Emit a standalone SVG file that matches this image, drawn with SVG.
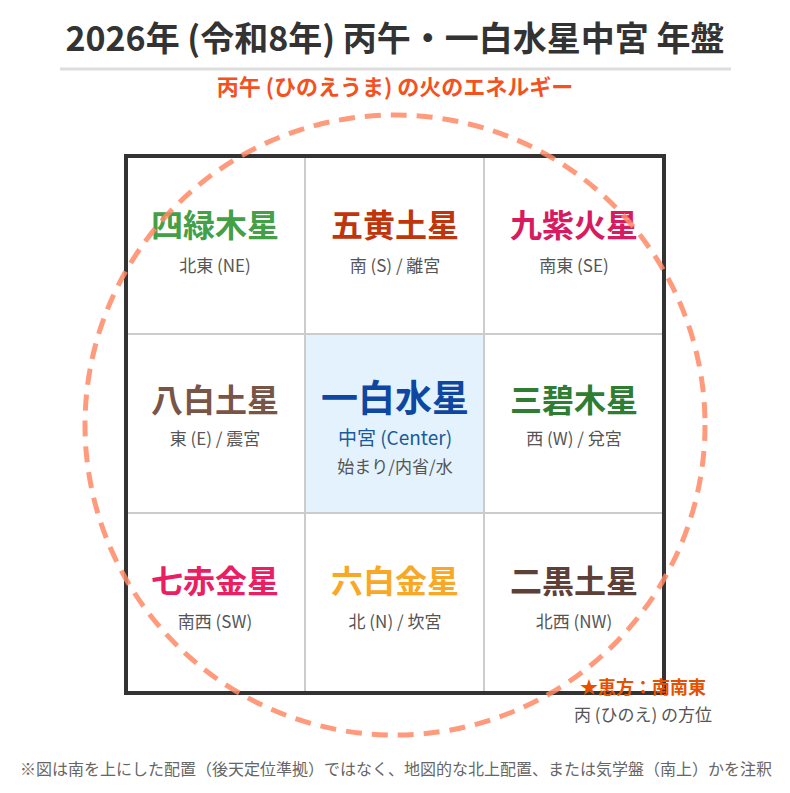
<svg xmlns="http://www.w3.org/2000/svg" width="790" height="793" viewBox="0 0 790 793">
<style>
text{font-family:"Noto Sans CJK JP","Noto Sans",sans-serif;text-anchor:middle}
.title{font-size:34px;font-weight:bold;fill:#333}
.sub{font-size:22px;font-weight:bold;fill:#f4511e}
.star{font-size:32px;font-weight:bold}
.dir{font-size:17px;fill:#555}
.cell{fill:#fff;stroke:#ccc;stroke-width:2}
.note{font-size:16px;fill:#666}
</style>
<rect width="790" height="793" fill="#fff"/>
<g id="header">
<text class="title" x="395" y="51">2026年 (令和8年) 丙午・一白水星中宮 年盤</text>
<line x1="60" y1="69" x2="731" y2="69" stroke="#ddd" stroke-width="3"/>
<text class="sub" x="395" y="95">丙午 (ひのえうま) の火のエネルギー</text>
</g>
<g id="grid">
<rect class="cell" x="126" y="156" width="179" height="178"/>
<rect class="cell" x="305" y="156" width="179" height="178"/>
<rect class="cell" x="484" y="156" width="180" height="178"/>
<rect class="cell" x="126" y="334" width="179" height="179"/>
<rect class="cell" x="305" y="334" width="179" height="179" style="fill:#e3f2fd"/>
<rect class="cell" x="484" y="334" width="180" height="179"/>
<rect class="cell" x="126" y="513" width="179" height="180"/>
<rect class="cell" x="305" y="513" width="179" height="180"/>
<rect class="cell" x="484" y="513" width="180" height="180"/>
<rect x="126" y="156" width="538" height="537" fill="none" stroke="#333" stroke-width="4"/>
</g>
<g id="ne"><text class="star" x="215" y="237" fill="#43a047">四緑木星</text><text class="dir" x="215" y="272">北東 (NE)</text></g>
<g id="s"><text class="star" x="395" y="237" fill="#bf360c">五黄土星</text><text class="dir" x="395" y="272">南 (S) / 離宮</text></g>
<g id="se"><text class="star" x="574" y="237" fill="#d81b60">九紫火星</text><text class="dir" x="574" y="272">南東 (SE)</text></g>
<g id="e"><text class="star" x="215" y="412" fill="#795548">八白土星</text><text class="dir" x="215" y="445">東 (E) / 震宮</text></g>
<g id="center"><text class="star" x="395" y="412" fill="#0d47a1" style="font-size:37px">一白水星</text><text class="dir" x="395" y="445" style="font-size:19px;fill:#1a5a9a">中宮 (Center)</text><text class="dir" x="395" y="473">始まり/内省/水</text></g>
<g id="w"><text class="star" x="574" y="412" fill="#2e7d32">三碧木星</text><text class="dir" x="574" y="445">西 (W) / 兌宮</text></g>
<g id="sw"><text class="star" x="215" y="593" fill="#e91e63">七赤金星</text><text class="dir" x="215" y="628">南西 (SW)</text></g>
<g id="n"><text class="star" x="395" y="593" fill="#f9a825">六白金星</text><text class="dir" x="395" y="628">北 (N) / 坎宮</text></g>
<g id="nw"><text class="star" x="574" y="593" fill="#5d4037">二黒土星</text><text class="dir" x="574" y="628">北西 (NW)</text></g>
<g id="aura"><circle cx="395" cy="425" r="310" fill="none" stroke="#ff8a65" stroke-opacity="0.85" stroke-width="5" stroke-dasharray="16 10"/></g>
<g id="eho">
<text x="706" y="694" style="text-anchor:end;font-size:18px;font-weight:bold;fill:#e65100">★恵方：南南東</text>
<text x="712" y="721" style="text-anchor:end;font-size:17px;fill:#555">丙 (ひのえ) の方位</text>
</g>
<text class="note" x="396" y="775">※図は南を上にした配置（後天定位準拠）ではなく、地図的な北上配置、または気学盤（南上）かを注釈</text>
</svg>
